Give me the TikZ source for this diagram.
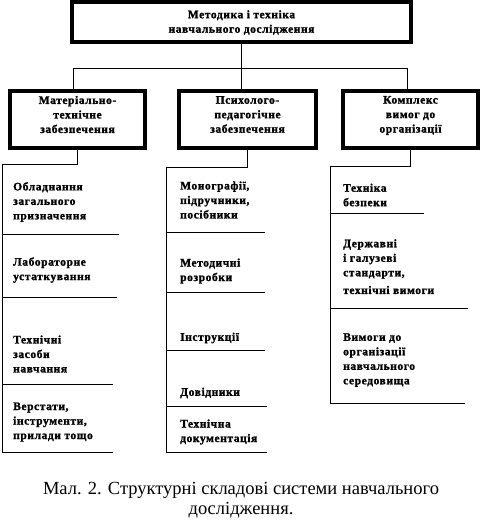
\documentclass[tikz,border=0pt]{standalone}
\usepackage{fontspec}
\setmainfont{Liberation Serif}
\newfontfamily\boxfont{Liberation Serif}[UprightFont={* Bold}, LetterSpace=5, FakeBold=1.5]
\begin{document}
\begin{tikzpicture}[x=1pt,y=-1pt,
  bigbox/.style={draw, line width=4pt, inner sep=0pt},
  boxtext/.style={font=\boxfont\fontsize{11.5}{14.5}\selectfont, align=center, inner sep=0pt},
  thinline/.style={line width=1pt},
  item/.style={anchor=west, inner sep=0pt, align=left, font=\boxfont\fontsize{11.5}{14.5}\selectfont},
  caption/.style={font=\fontsize{18.5}{20}\selectfont, align=center, inner sep=0pt}]
\useasboundingbox (0,0) rectangle (482,521);
% top box
\node[bigbox, minimum width=339pt, minimum height=40pt,
  label={[boxtext,yshift=-0.5pt]center:{Методика і техніка\\навчального дослідження}}] (top) at (241.5,22) {};
% second row
\node[bigbox, minimum width=135pt, minimum height=57pt,
  label={[boxtext,yshift=5pt]center:{Матеріально-\\технічне\\забезпечення}}] (b1) at (77.5,119.5) {};
\node[bigbox, minimum width=137pt, minimum height=57pt,
  label={[boxtext,yshift=5pt]center:{Психолого-\\педагогічне\\забезпечення}}] (b2) at (247.5,119.5) {};
\node[bigbox, minimum width=135pt, minimum height=57pt,
  label={[boxtext,yshift=4pt]center:{Комплекс\\вимог до\\організації}}] (b3) at (410.5,119.5) {};
% top connectors
\coordinate (j1) at (73,69);
\coordinate (j2) at (241.5,69);
\coordinate (j3) at (407,69);
\draw[thinline] (top.south) -- (j2);
\draw[thinline] (j1 |- b1.north) -- (j1) -- (j3) -- (j3 |- b3.north);
\draw[thinline] (j2) -- (j2 |- b2.north);
% column 1
\coordinate (c1) at (2,165);
\draw[thinline] (b1.south) |- (c1) -- (2,452) -- (113,452);
\draw[thinline] (2,234) -- (119,234);
\draw[thinline] (2,297) -- (117,297);
\draw[thinline] (2,384) -- (113,384);
\node[item] (i11) at (13,202) {Обладнання\\загального\\призначення};
\node[item] (i12) at (13,270) {Лабораторне\\устаткування};
\node[item] (i13) at (13,354) {Технічні\\засоби\\навчання};
\node[item] (i14) at (13,422) {Верстати,\\інструменти,\\прилади тощо};
% column 2
\coordinate (c2) at (166,168);
\draw[thinline] (b2.south) |- (c2) -- (166,452) -- (267,452);
\draw[thinline] (166,232) -- (265,232);
\draw[thinline] (166,292) -- (265,292);
\draw[thinline] (166,350) -- (265,350);
\draw[thinline] (166,406) -- (267,406);
\node[item] (i21) at (180,200) {Монографії,\\підручники,\\посібники};
\node[item] (i22) at (180,271) {Методичні\\розробки};
\node[item] (i23) at (180,338) {Інструкції};
\node[item] (i24) at (180,393) {Довідники};
\node[item] (i25) at (180,432) {Технічна\\документація};
% column 3
\coordinate (c3) at (330,167);
\draw[thinline] (b3.south) |- (c3) -- (330,403) -- (465,403);
\draw[thinline] (330,213) -- (424,213);
\draw[thinline] (330,308) -- (468,308);
\node[item] (i31) at (343,195) {Техніка\\безпеки};
\node[item] (i32) at (343,259) {Державні\\і галузеві\\стандарти,};
\node[item] (i33) at (343,290) {технічні вимоги};
\node[item] (i34) at (343,360) {Вимоги до\\організації\\навчального\\середовища};
% caption
\node[caption] (cap) at (241,500) {Мал. 2. Структурні складові системи навчального\\дослідження.};
\end{tikzpicture}
\end{document}
